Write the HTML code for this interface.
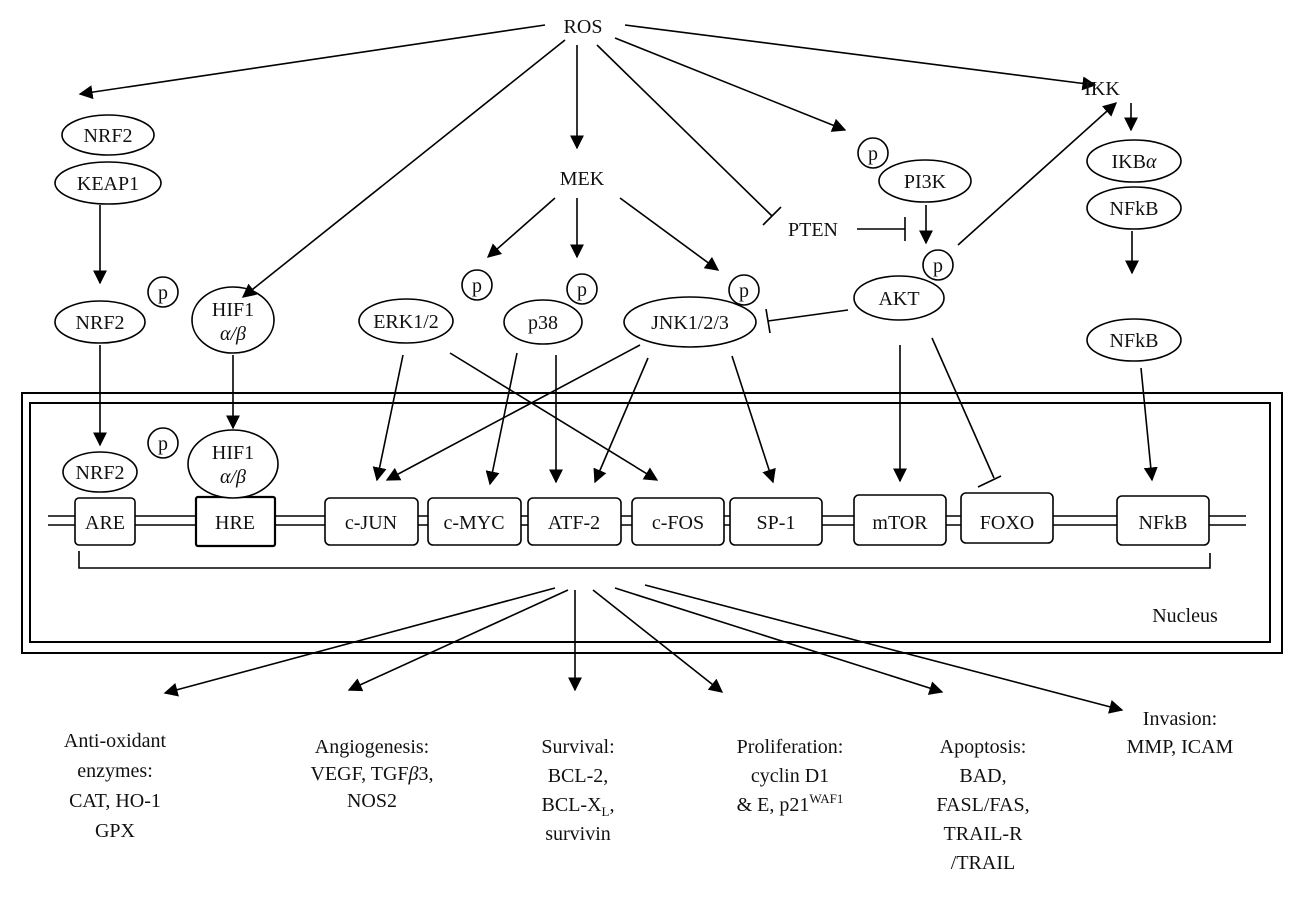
<!DOCTYPE html>
<html><head><meta charset="utf-8"><style>
html,body{margin:0;padding:0;background:#fff;}
svg{display:block;}
text{font-family:"Liberation Serif",serif;font-size:20px;fill:#111;}
</style></head><body>
<svg width="1295" height="910" viewBox="0 0 1295 910" xmlns="http://www.w3.org/2000/svg">
<defs>
<marker id="a" viewBox="0 0 10 10" refX="9" refY="5" markerWidth="14" markerHeight="14" markerUnits="userSpaceOnUse" orient="auto"><path d="M0,0 L10,5 L0,10 z" fill="#000"/></marker>
</defs>
<g stroke="#000" stroke-width="1.6" fill="none">
<rect x="22" y="393" width="1260" height="260" stroke-width="2"/>
<rect x="30" y="403" width="1240" height="239" stroke-width="2"/>
<line x1="48" y1="516" x2="1246" y2="516"/>
<line x1="48" y1="525" x2="1246" y2="525"/>
</g>
<g stroke="#000" stroke-width="1.6" fill="#fff">
<rect x="75" y="498" width="60" height="47" rx="4"/>
<rect x="196" y="497" width="79" height="49" rx="2" stroke-width="2.2"/>
<rect x="325" y="498" width="93" height="47" rx="5"/>
<rect x="428" y="498" width="93" height="47" rx="5"/>
<rect x="528" y="498" width="93" height="47" rx="5"/>
<rect x="632" y="498" width="92" height="47" rx="5"/>
<rect x="730" y="498" width="92" height="47" rx="5"/>
<rect x="854" y="495" width="92" height="50" rx="5"/>
<rect x="961" y="493" width="92" height="50" rx="5"/>
<rect x="1117" y="496" width="92" height="49" rx="5"/>
<ellipse cx="108" cy="135" rx="46" ry="20"/>
<ellipse cx="108" cy="183" rx="53" ry="21"/>
<ellipse cx="100" cy="322" rx="45" ry="21"/>
<circle cx="163" cy="292" r="15"/>
<ellipse cx="233" cy="320" rx="41" ry="33"/>
<ellipse cx="406" cy="321" rx="47" ry="22"/>
<circle cx="477" cy="285" r="15"/>
<ellipse cx="543" cy="322" rx="39" ry="22"/>
<circle cx="582" cy="289" r="15"/>
<ellipse cx="690" cy="322" rx="66" ry="25"/>
<circle cx="744" cy="290" r="15"/>
<circle cx="873" cy="153" r="15"/>
<ellipse cx="925" cy="181" rx="46" ry="21"/>
<ellipse cx="899" cy="298" rx="45" ry="22"/>
<circle cx="938" cy="265" r="15"/>
<ellipse cx="1134" cy="161" rx="47" ry="21"/>
<ellipse cx="1134" cy="208" rx="47" ry="21"/>
<ellipse cx="1134" cy="340" rx="47" ry="21"/>
<ellipse cx="100" cy="472" rx="37" ry="20"/>
<circle cx="163" cy="443" r="15"/>
<ellipse cx="233" cy="464" rx="45" ry="34"/>
</g>
<g stroke="#000" stroke-width="1.6" fill="none">
<polyline points="79,551 79,568 1210,568 1210,553"/>
<line x1="545" y1="25" x2="80" y2="94" marker-end="url(#a)"/>
<line x1="565" y1="40" x2="243" y2="297" marker-end="url(#a)"/>
<line x1="577" y1="45" x2="577" y2="148" marker-end="url(#a)"/>
<line x1="597" y1="45" x2="772" y2="216"/>
<line x1="763" y1="225" x2="781" y2="207"/>
<line x1="615" y1="38" x2="845" y2="130" marker-end="url(#a)"/>
<line x1="625" y1="25" x2="1095" y2="85" marker-end="url(#a)"/>
<line x1="958" y1="245" x2="1116" y2="103" marker-end="url(#a)"/>
<line x1="1131" y1="103" x2="1131" y2="130" marker-end="url(#a)"/>
<line x1="1132" y1="231" x2="1132" y2="273" marker-end="url(#a)"/>
<line x1="857" y1="229" x2="905" y2="229"/>
<line x1="905" y1="217" x2="905" y2="241"/>
<line x1="926" y1="205" x2="926" y2="243" marker-end="url(#a)"/>
<line x1="555" y1="198" x2="488" y2="257" marker-end="url(#a)"/>
<line x1="577" y1="198" x2="577" y2="257" marker-end="url(#a)"/>
<line x1="620" y1="198" x2="718" y2="270" marker-end="url(#a)"/>
<line x1="848" y1="310" x2="768" y2="321"/>
<line x1="766" y1="309" x2="770" y2="333"/>
<line x1="100" y1="205" x2="100" y2="283" marker-end="url(#a)"/>
<line x1="100" y1="345" x2="100" y2="445" marker-end="url(#a)"/>
<line x1="233" y1="355" x2="233" y2="428" marker-end="url(#a)"/>
<line x1="403" y1="355" x2="377" y2="480" marker-end="url(#a)"/>
<line x1="450" y1="353" x2="657" y2="480" marker-end="url(#a)"/>
<line x1="517" y1="353" x2="490" y2="484" marker-end="url(#a)"/>
<line x1="556" y1="355" x2="556" y2="482" marker-end="url(#a)"/>
<line x1="640" y1="345" x2="387" y2="480" marker-end="url(#a)"/>
<line x1="648" y1="358" x2="595" y2="482" marker-end="url(#a)"/>
<line x1="732" y1="356" x2="773" y2="482" marker-end="url(#a)"/>
<line x1="900" y1="345" x2="900" y2="481" marker-end="url(#a)"/>
<line x1="932" y1="338" x2="994" y2="478"/>
<line x1="978" y1="487" x2="1001" y2="476"/>
<line x1="1141" y1="368" x2="1152" y2="480" marker-end="url(#a)"/>
<line x1="555" y1="588" x2="165" y2="693" marker-end="url(#a)"/>
<line x1="568" y1="590" x2="349" y2="690" marker-end="url(#a)"/>
<line x1="575" y1="590" x2="575" y2="690" marker-end="url(#a)"/>
<line x1="593" y1="590" x2="722" y2="692" marker-end="url(#a)"/>
<line x1="615" y1="588" x2="942" y2="692" marker-end="url(#a)"/>
<line x1="645" y1="585" x2="1122" y2="710" marker-end="url(#a)"/>
</g>
<g text-anchor="middle">
<text x="583" y="33">ROS</text>
<text x="108" y="142">NRF2</text>
<text x="108" y="190">KEAP1</text>
<text x="100" y="329">NRF2</text>
<text x="163" y="299">p</text>
<text x="233" y="316">HIF1</text>
<text x="233" y="340" font-style="italic">α/β</text>
<text x="582" y="185">MEK</text>
<text x="406" y="328">ERK1/2</text>
<text x="477" y="292">p</text>
<text x="543" y="329">p38</text>
<text x="582" y="296">p</text>
<text x="690" y="329">JNK1/2/3</text>
<text x="744" y="297">p</text>
<text x="873" y="160">p</text>
<text x="925" y="188">PI3K</text>
<text x="813" y="236">PTEN</text>
<text x="899" y="305">AKT</text>
<text x="938" y="272">p</text>
<text x="1102" y="95">IKK</text>
<text x="1134" y="168">IKB<tspan font-style="italic">α</tspan></text>
<text x="1134" y="215">NFkB</text>
<text x="1134" y="347">NFkB</text>
<text x="100" y="479">NRF2</text>
<text x="163" y="450">p</text>
<text x="233" y="459">HIF1</text>
<text x="233" y="483" font-style="italic">α/β</text>
<text x="105" y="529">ARE</text>
<text x="235" y="529">HRE</text>
<text x="371" y="529">c-JUN</text>
<text x="474" y="529">c-MYC</text>
<text x="574" y="529">ATF-2</text>
<text x="678" y="529">c-FOS</text>
<text x="776" y="529">SP-1</text>
<text x="900" y="529">mTOR</text>
<text x="1007" y="529">FOXO</text>
<text x="1163" y="529">NFkB</text>
<text x="1185" y="622">Nucleus</text>
<text x="115" y="747">Anti-oxidant</text>
<text x="115" y="777">enzymes:</text>
<text x="115" y="807">CAT, HO-1</text>
<text x="115" y="837">GPX</text>
<text x="372" y="753">Angiogenesis:</text>
<text x="372" y="780">VEGF, TGF<tspan font-style="italic">β</tspan>3,</text>
<text x="372" y="807">NOS2</text>
<text x="578" y="753">Survival:</text>
<text x="578" y="782">BCL-2,</text>
<text x="578" y="811">BCL-X<tspan font-size="13" dy="5">L</tspan><tspan dy="-5">,</tspan></text>
<text x="578" y="840">survivin</text>
<text x="790" y="753">Proliferation:</text>
<text x="790" y="782">cyclin D1</text>
<text x="790" y="811">&amp; E, p21<tspan font-size="13" dy="-8">WAF1</tspan></text>
<text x="983" y="753">Apoptosis:</text>
<text x="983" y="782">BAD,</text>
<text x="983" y="811">FASL/FAS,</text>
<text x="983" y="840">TRAIL-R</text>
<text x="983" y="869">/TRAIL</text>
<text x="1180" y="725">Invasion:</text>
<text x="1180" y="753">MMP, ICAM</text>
</g>
</svg>
</body></html>
